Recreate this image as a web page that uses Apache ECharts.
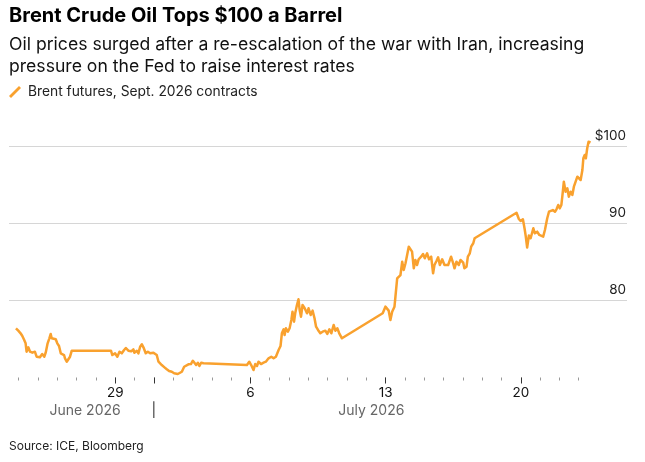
<!DOCTYPE html>
<html>
<head>
<meta charset="utf-8">
<script src="https://cdn.jsdelivr.net/npm/echarts@6/dist/echarts.min.js"></script>
<style>
  html, body {margin: 0; padding: 0; background: #fff;}
  #chart {width: 645px; height: 462px;}
</style>
</head>
<body>
<div id="chart"></div>
<script>
// Brent futures (Sept. 2026 contract), intraday.
// Time is in days counted from May 31, so June 24 = 24 and July 1 = 31.
const TIMES = [
  23.86, 23.98, 24.10, 24.19, 24.27, 24.36, 24.41, 24.50, 24.59, 24.71,
  24.84, 24.93, 25.02, 25.10, 25.22, 25.33, 25.40, 25.50, 25.59, 25.66,
  25.71, 25.81, 25.92, 26.00, 26.09, 26.18, 26.26, 26.35, 26.40, 26.49,
  26.57, 26.66, 26.75, 28.78, 28.85, 28.99, 29.11, 29.22, 29.34, 29.46,
  29.55, 29.68, 29.83, 29.94, 29.99, 30.12, 30.20, 30.29, 30.38, 30.46,
  30.58, 30.69, 30.81, 30.98, 31.15, 31.24, 31.32, 31.41, 31.55, 31.67,
  31.79, 31.93, 32.05, 32.14, 32.24, 32.33, 32.45, 32.57, 32.67, 32.79,
  32.92, 33.02, 33.10, 33.19, 33.28, 33.36, 33.45, 33.57, 35.82, 35.94,
  36.04, 36.16, 36.25, 36.34, 36.42, 36.55, 36.68, 36.80, 36.94, 37.08,
  37.20, 37.32, 37.41, 37.46, 37.56, 37.63, 37.72, 37.77, 37.84, 37.94,
  38.03, 38.12, 38.18, 38.26, 38.32, 38.41, 38.49, 38.55, 38.62, 38.70,
  38.81, 38.93, 39.01, 39.12, 39.22, 39.32, 39.40, 39.50, 39.62, 39.74,
  39.88, 39.98, 40.09, 40.19, 40.31, 40.40, 40.50, 40.60, 40.74, 42.85,
  42.99, 43.08, 43.16, 43.25, 43.34, 43.46, 43.51, 43.60, 43.68, 43.77,
  43.86, 43.94, 44.03, 44.11, 44.20, 44.28, 44.37, 44.46, 44.54, 44.63,
  44.71, 44.84, 44.94, 45.03, 45.15, 45.25, 45.36, 45.46, 45.53, 45.64,
  45.72, 45.81, 45.93, 46.05, 46.15, 46.24, 46.32, 46.39, 46.50, 46.57,
  46.67, 46.79, 46.88, 47.02, 47.08, 47.19, 47.26, 47.36, 47.43, 47.54,
  47.61, 47.71, 49.78, 49.90, 49.99, 50.11, 50.20, 50.26, 50.33, 50.42,
  50.51, 50.65, 50.73, 50.85, 50.96, 51.06, 51.16, 51.25, 51.37, 51.46,
  51.54, 51.66, 51.77, 51.85, 51.94, 52.02, 52.10, 52.15, 52.23, 52.32,
  52.41, 52.49, 52.58, 52.67, 52.75, 52.84, 52.93, 53.01, 53.10, 53.19,
  53.24, 53.31, 53.37, 53.44, 53.51, 53.56, 53.61
]
const PRICES = [
  76.39, 76.08, 75.74, 75.39, 74.96, 74.44, 73.35, 73.92, 73.35, 73.22,
  73.35, 72.70, 72.92, 72.62, 73.05, 72.70, 73.22, 74.44, 75.09, 75.65,
  75.09, 75.30, 74.96, 74.44, 74.09, 73.14, 73.35, 72.92, 72.49, 72.05,
  72.27, 72.70, 73.48, 73.48, 72.92, 73.14, 72.70, 73.35, 73.14, 73.57,
  73.83, 73.48, 73.40, 73.66, 73.22, 73.48, 73.14, 74.00, 74.31, 73.92,
  73.14, 73.35, 73.14, 73.22, 72.92, 72.05, 72.18, 71.62, 71.32, 71.07,
  70.84, 70.75, 70.55, 70.72, 70.45, 70.29, 70.75, 71.40, 71.32, 71.71,
  71.75, 72.18, 72.05, 71.62, 71.92, 71.49, 71.92, 71.84, 71.62, 72.05,
  71.62, 70.97, 71.75, 71.49, 72.05, 71.75, 71.92, 72.05, 72.49, 72.70,
  72.49, 72.70, 72.49, 73.57, 74.09, 75.74, 76.26, 75.52, 76.39, 75.95,
  76.39, 77.47, 78.55, 77.25, 78.34, 79.42, 80.16, 78.77, 77.90, 79.42,
  78.99, 78.34, 78.99, 78.12, 78.68, 77.69, 76.60, 76.17, 75.74, 75.95,
  76.08, 75.65, 76.26, 75.74, 76.82, 76.08, 76.39, 75.74, 75.09, 78.34,
  79.20, 79.29, 78.68, 77.47, 78.55, 79.20, 80.49, 82.88, 83.09, 83.31,
  85.04, 83.96, 84.83, 85.04, 86.99, 87.21, 86.34, 84.18, 85.26, 84.61,
  85.35, 85.69, 86.04, 85.48, 86.13, 85.35, 85.69, 83.53, 84.61, 85.17,
  85.61, 84.61, 85.35, 84.61, 84.39, 84.61, 84.39, 85.69, 84.83, 84.18,
  85.04, 84.61, 85.26, 84.91, 84.18, 84.39, 85.69, 86.13, 86.99, 87.43,
  88.08, 88.21, 91.40, 90.58, 90.32, 90.55, 89.29, 88.29, 86.88, 88.44,
  88.08, 89.38, 88.73, 88.94, 88.51, 88.73, 88.29, 89.16, 90.68, 91.53,
  91.32, 91.75, 91.53, 91.84, 92.40, 91.97, 92.40, 93.48, 95.43, 94.13,
  94.57, 93.48, 94.13, 93.70, 94.78, 95.43, 96.08, 95.87, 95.65, 96.95,
  98.47, 98.90, 98.47, 99.77, 100.62, 100.84, 100.49
]

const X_MIN = 23.5
const X_MAX = 55.5
const DAY_TICKS = [24, 25, 26, 27, 28, 29, 30, 31, 32, 33, 34, 35, 36, 37, 38,
  39, 40, 41, 42, 43, 44, 45, 46, 47, 48, 49, 50, 51, 52, 53]
const MAJOR_TICKS = [29, 31, 36, 43, 50]
const DAY_LABELS = [29, 36, 43, 50]
const MONTH_LABELS = [[27.44, "June 2026"], [31, "|"], [42.26, "July 2026"]]
const Y_TICKS = [70, 80, 90, 100]

const FONT = "Inter, 'Liberation Sans', sans-serif"
const ORANGE = "#f9a12e"
const GRID_COLOR = "#d6d6d6"

function dayOfMonth(v) {
  return v > 30 ? String(v - 30) : String(v)
}

function baseXAxis() {
  return {
    type: "value",
    min: X_MIN,
    max: X_MAX,
    position: "bottom",
    axisLine: {show: false},
    splitLine: {show: false},
  }
}

const chart = echarts.init(document.getElementById("chart"), null, {renderer: "canvas"})

chart.setOption({
  backgroundColor: "#fff",
  animation: false,
  textStyle: {fontFamily: FONT},
  title: [
    {
      text: "Brent Crude Oil Tops $100 a Barrel",
      subtext: "Oil prices surged after a re-escalation of the war with Iran, increasing\npressure on the Fed to raise interest rates",
      left: 9,
      top: 6,
      padding: 0,
      itemGap: 8,
      textStyle: {fontFamily: FONT, fontSize: 20, fontWeight: "bold", color: "#000"},
      subtextStyle: {fontFamily: FONT, fontSize: 17.6, color: "#111", lineHeight: 22},
    },
    {
      text: "Source: ICE, Bloomberg",
      left: 9,
      top: 440,
      padding: 0,
      textStyle: {fontFamily: FONT, fontSize: 12, fontWeight: "normal", color: "#222"},
    },
  ],
  legend: {
    left: 9,
    top: 85,
    padding: 0,
    itemWidth: 12,
    itemHeight: 12,
    itemGap: 10,
    icon: "path://M0,10 L10,0 L12,2 L2,12 Z",
    textStyle: {fontFamily: FONT, fontSize: 13.8, color: "#222", padding: [0, 0, 0, 2]},
    data: ["Brent futures, Sept. 2026 contracts"],
  },
  grid: {left: 9, right: 18, top: 146.5, bottom: 84.5},
  xAxis: [
    {
      ...baseXAxis(),
      axisTick: {show: true, customValues: DAY_TICKS, length: 3, lineStyle: {color: "#999"}},
      axisLabel: {show: false},
    },
    {
      ...baseXAxis(),
      axisTick: {show: true, customValues: MAJOR_TICKS, length: 6, lineStyle: {color: "#333"}},
      axisLabel: {
        show: true,
        customValues: DAY_LABELS,
        margin: 8,
        fontFamily: FONT,
        fontSize: 13.5,
        color: "#111",
        formatter: v => dayOfMonth(v),
      },
    },
    {
      ...baseXAxis(),
      offset: 26,
      axisTick: {show: false},
      axisLabel: {
        show: true,
        customValues: MONTH_LABELS.map(([v]) => v),
        margin: 0,
        fontFamily: FONT,
        fontSize: 14,
        color: "#666",
        formatter(v) {
          const hit = MONTH_LABELS.find(([d]) => d === v)
          return hit ? (hit[1] === "|" ? "{sep|" + hit[1] + "}" : hit[1]) : ""
        },
        rich: {sep: {color: "#333", fontSize: 14, fontFamily: FONT}},
      },
    },
  ],
  yAxis: {
    type: "value",
    position: "right",
    min: 70,
    max: 100,
    interval: 10,
    axisLine: {show: false},
    axisTick: {show: false},
    splitLine: {
      show: true,
      lineStyle: {color: Y_TICKS.map(v => (v === 70 ? "rgba(0,0,0,0)" : GRID_COLOR)), width: 1},
    },
    axisLabel: {
      inside: true,
      margin: 1,
      verticalAlign: "bottom",
      padding: [0, 0, 4, 0],
      fontFamily: FONT,
      fontSize: 13.5,
      color: "#222",
      formatter: v => (v === 100 ? "$100" : v === 70 ? "" : String(v)),
    },
  },
  series: [
    {
      name: "Brent futures, Sept. 2026 contracts",
      type: "line",
      xAxisIndex: 0,
      data: TIMES.map((t, i) => [t, PRICES[i]]),
      showSymbol: false,
      symbol: "none",
      clip: false,
      lineStyle: {color: ORANGE, width: 2.5, join: "round"},
      itemStyle: {color: ORANGE},
    },
  ],
})
</script>
</body>
</html>
